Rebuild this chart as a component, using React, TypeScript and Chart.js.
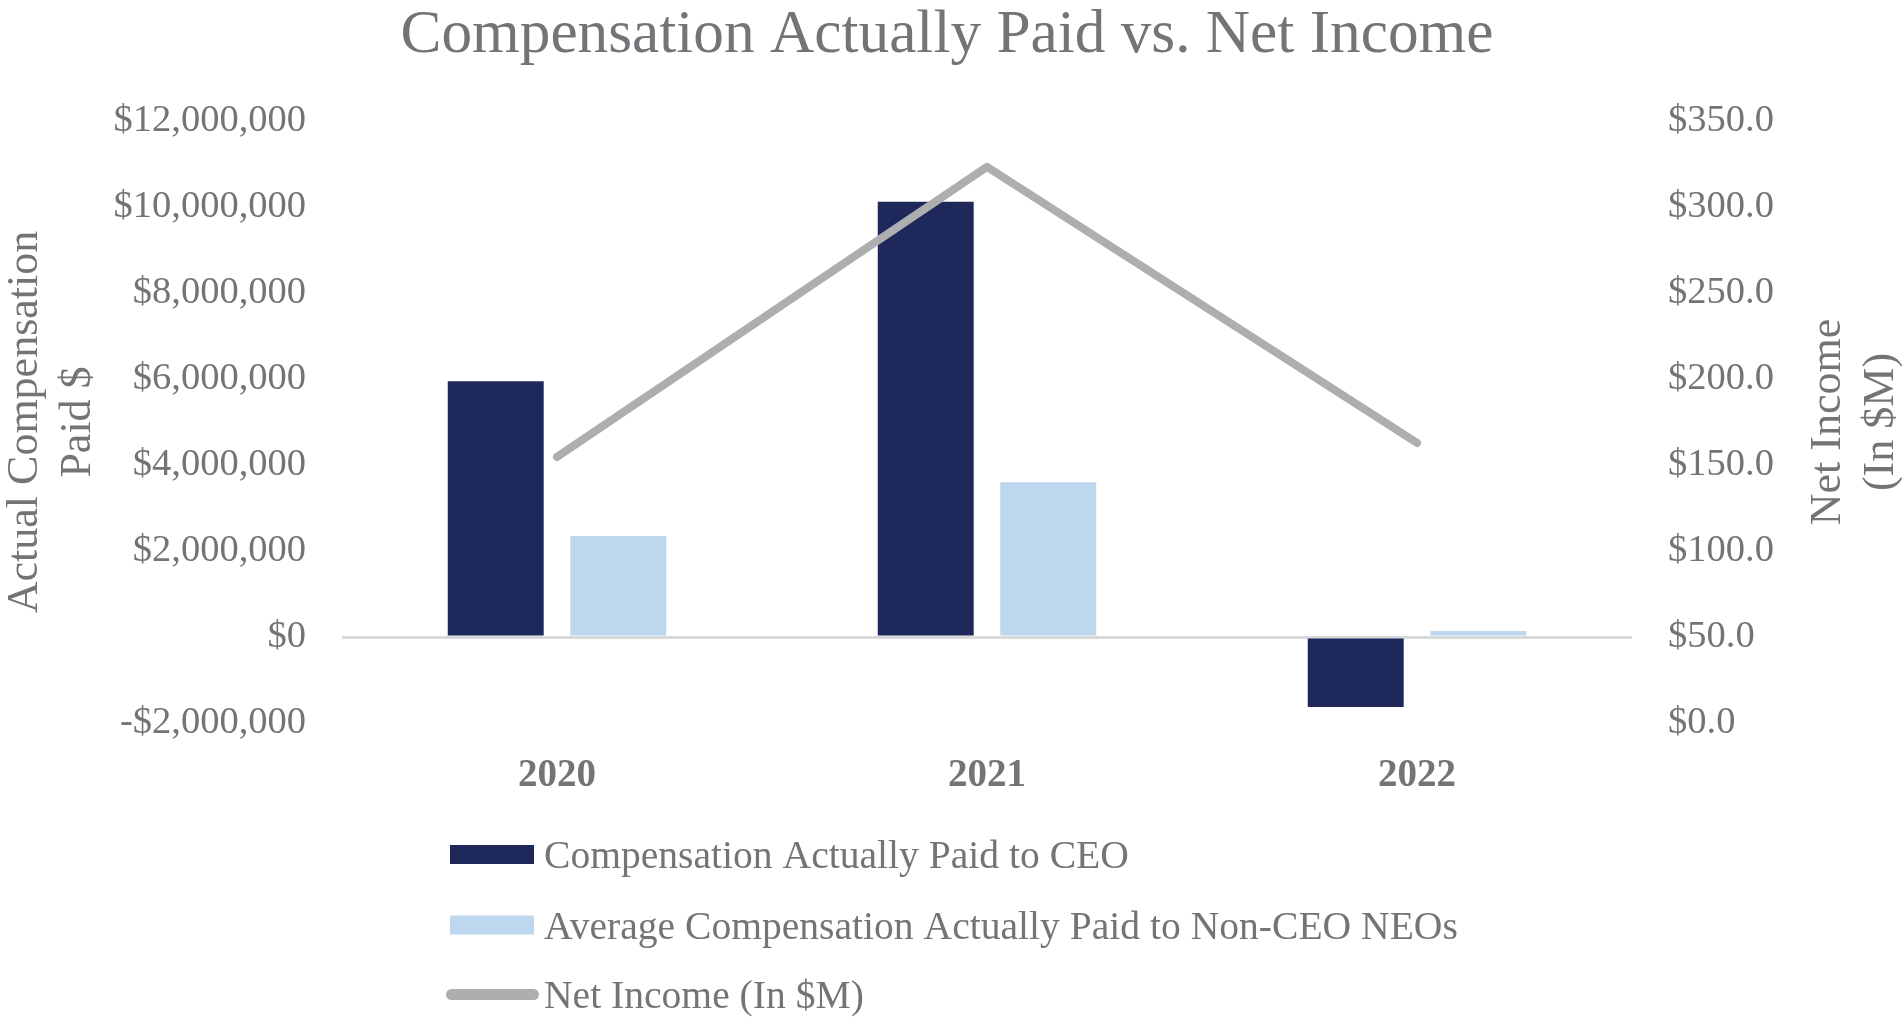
import React, { useEffect, useRef } from "react";
import { Chart, registerables } from "chart.js";

Chart.register(...registerables);

const FONT = "'Liberation Serif', 'Times New Roman', serif";
const TEXT = "#737478";

const chartTitle = "Compensation Actually Paid vs. Net Income";
const years = ["2020", "2021", "2022"];
const ceoPaid = [5950000, 10120000, -1630000];
const neoPaid = [2350000, 3600000, 140000];
const netIncome = [154.7, 323.3, 162.8];
const seriesNames = [
  "Compensation Actually Paid to CEO",
  "Average Compensation Actually Paid to Non-CEO NEOs",
  "Net Income (In $M)",
];
const leftTitle = ["Actual Compensation", "Paid $"];
const rightTitle = ["Net Income", "(In $M)"];

const NAVY = "#1F285B";
const LIGHT = "#BDD7EE";
const GRAY = "#ADAEB0";

const decorPlugin = {
  id: "decor",
  afterDraw(chart: any) {
    const ctx = chart.ctx;
    const area = chart.chartArea;
    const midY = (area.top + area.bottom) / 2;
    ctx.save();
    ctx.fillStyle = TEXT;
    // title
    ctx.font = `61.3px ${FONT}`;
    ctx.textAlign = "center";
    ctx.textBaseline = "alphabetic";
    ctx.fillText(chartTitle, 947, 52);

    // axis titles
    ctx.font = `44px ${FONT}`;
    const drawRot = (text: string, x: number) => {
      ctx.save();
      ctx.translate(x, midY);
      ctx.rotate(-Math.PI / 2);
      ctx.textAlign = "center";
      ctx.textBaseline = "alphabetic";
      ctx.fillText(text, 0, 0);
      ctx.restore();
    };
    drawRot(leftTitle[0], 37);
    drawRot(leftTitle[1], 90);
    drawRot(rightTitle[0], 1840);
    drawRot(rightTitle[1], 1893);

    // legend
    const rows = [854.5, 925, 994.5];
    ctx.font = `39.6px ${FONT}`;
    ctx.textAlign = "left";
    ctx.textBaseline = "alphabetic";
    ctx.fillStyle = NAVY;
    ctx.fillRect(450, rows[0] - 9.5, 84, 19);
    ctx.fillStyle = LIGHT;
    ctx.fillRect(450, rows[1] - 9.5, 84, 19);
    ctx.strokeStyle = GRAY;
    ctx.lineWidth = 11;
    ctx.lineCap = "round";
    ctx.beginPath();
    ctx.moveTo(451.5, rows[2]);
    ctx.lineTo(533.5, rows[2]);
    ctx.stroke();
    ctx.fillStyle = TEXT;
    seriesNames.forEach((n, i) => ctx.fillText(n, 544, rows[i] + 13.5));
    ctx.restore();
  },
};

export default function App() {
  const ref = useRef<HTMLCanvasElement | null>(null);
  useEffect(() => {
    document.body.style.margin = "0";
    document.body.style.overflow = "hidden";
    Chart.defaults.font.family = FONT;
    const chart = new Chart(ref.current as HTMLCanvasElement, {
      type: "bar",
      data: {
        labels: years,
        datasets: [
          {
            type: "line",
            label: seriesNames[2],
            data: netIncome,
            yAxisID: "y1",
            borderColor: GRAY,
            backgroundColor: GRAY,
            borderWidth: 8,
            pointRadius: 0,
            borderCapStyle: "round",
            borderJoinStyle: "round",
            tension: 0,
            order: 0,
          } as any,
          {
            type: "bar",
            label: seriesNames[0],
            data: ceoPaid,
            yAxisID: "y",
            backgroundColor: NAVY,
            borderWidth: 0,
            categoryPercentage: 0.57,
            barPercentage: 0.783,
            order: 1,
          },
          {
            type: "bar",
            label: seriesNames[1],
            data: neoPaid,
            yAxisID: "y",
            backgroundColor: LIGHT,
            borderWidth: 0,
            categoryPercentage: 0.57,
            barPercentage: 0.783,
            order: 2,
          },
        ],
      },
      options: {
        animation: false,
        responsive: true,
        maintainAspectRatio: false,
        layout: { padding: { top: 121, left: 0, right: 0, bottom: 0 } },
        plugins: {
          legend: { display: false },
          title: { display: false },
          tooltip: { enabled: false },
        },
        scales: {
          x: {
            type: "category",
            position: "bottom",
            grid: { display: false },
            border: { display: false },
            ticks: {
              color: TEXT,
              font: { family: FONT, size: 39, weight: "bold" },
              padding: 22,
            },
            afterFit: (s: any) => {
              s.height = 296;
            },
          },
          y: {
            type: "linear",
            position: "left",
            min: -2000000,
            max: 12000000,
            grid: {
              drawTicks: false,
              color: (c: any) => (c.tick && c.tick.value === 0 ? "#D9D9D9" : "rgba(0,0,0,0)"),
              lineWidth: 3,
            },
            border: { display: false },
            ticks: {
              stepSize: 2000000,
              color: TEXT,
              font: { family: FONT, size: 38.5 },
              padding: 36,
              callback: (v: any) =>
                (v < 0 ? "-" : "") + "$" + Math.abs(Number(v)).toLocaleString("en-US"),
            },
            afterFit: (s: any) => {
              s.width = 342;
            },
          },
          y1: {
            type: "linear",
            position: "right",
            min: 0,
            max: 350,
            grid: { display: false, drawTicks: false },
            border: { display: false },
            ticks: {
              stepSize: 50,
              color: TEXT,
              font: { family: FONT, size: 38.5 },
              padding: 36,
              callback: (v: any) => "$" + Number(v).toFixed(1),
            },
            afterFit: (s: any) => {
              s.width = 271;
            },
          },
        },
      } as any,
      plugins: [decorPlugin],
    });
    return () => chart.destroy();
  }, []);
  return (
    <div style={{ position: "fixed", left: 0, top: 0, width: "1903px", height: "1019px", background: "#fff" }}>
      <canvas ref={ref} />
    </div>
  );
}
